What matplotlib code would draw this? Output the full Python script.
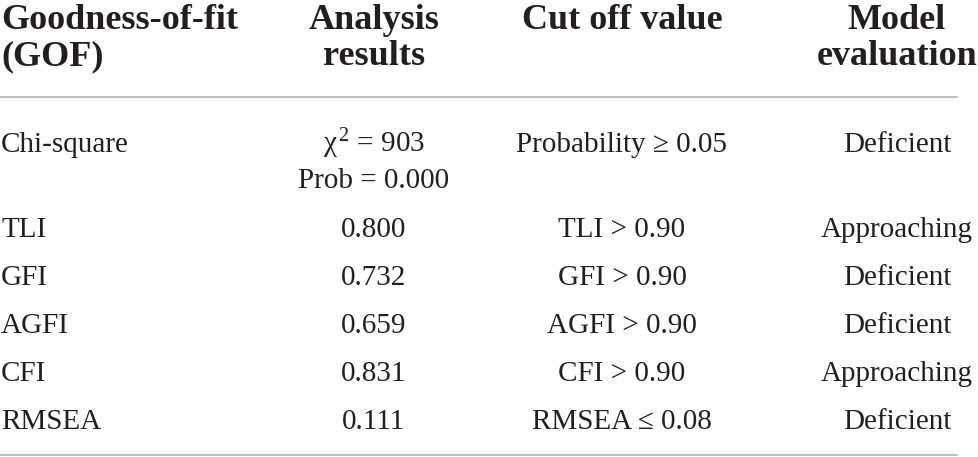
import matplotlib
matplotlib.use("Agg")
import matplotlib.pyplot as plt

plt.rcParams['font.family'] = ['Liberation Serif', 'DejaVu Serif']
plt.rcParams['mathtext.fontset'] = 'custom'
plt.rcParams['mathtext.rm'] = 'Liberation Serif'
plt.rcParams['mathtext.it'] = 'Liberation Serif:italic'

headers = [["Goodness-of-fit", "(GOF)"], ["Analysis", "results"], ["Cut off value"], ["Model", "evaluation"]]
gof = ["Chi-square", "TLI", "GFI", "AGFI", "CFI", "RMSEA"]
results = [["χ$^{\\,2}$ = 903", "Prob = 0.000"], ["0.800"], ["0.732"], ["0.659"], ["0.831"], ["0.111"]]
cutoff = ["Probability ≥ 0.05", "TLI > 0.90", "GFI > 0.90", "AGFI > 0.90", "CFI > 0.90", "RMSEA ≤ 0.08"]
evaluation = ["Deficient", "Approaching", "Deficient", "Deficient", "Approaching", "Deficient"]

W, H = 979, 457
fig = plt.figure(figsize=(W / 100, H / 100), dpi=100)
ax = fig.add_axes([0, 0, 1, 1])
ax.set_xlim(0, W)
ax.set_ylim(H, 0)
ax.axis('off')

col_x = [1, 374, 622, 897]
col_ha = ['left', 'center', 'center', 'center']
hsize = 26
bsize = 21
tc = '#231f20'

# headers
for j, lines in enumerate(headers):
    for k, t in enumerate(lines):
        ax.text(col_x[j], 29 + 36 * k, t, ha=col_ha[j], va='baseline',
                fontsize=hsize, fontweight='bold', color=tc)

ax.plot([0, 957], [97, 97], color='#b9b9b9', lw=1.3)
ax.plot([0, 957], [455, 455], color='#b9b9b9', lw=1.3)

row_base = [152, 237, 285, 333, 381, 429]
for i in range(len(gof)):
    y = row_base[i]
    ax.text(col_x[0], y, gof[i], ha='left', va='baseline', fontsize=bsize, color=tc)
    for k, t in enumerate(results[i]):
        ax.text(col_x[1], y + 36 * k, t, ha='center', va='baseline', fontsize=bsize, color=tc)
    ax.text(col_x[2], y, cutoff[i], ha='center', va='baseline', fontsize=bsize, color=tc)
    ax.text(col_x[3], y, evaluation[i], ha='center', va='baseline', fontsize=bsize, color=tc)

fig.savefig("out.png", dpi=100)
